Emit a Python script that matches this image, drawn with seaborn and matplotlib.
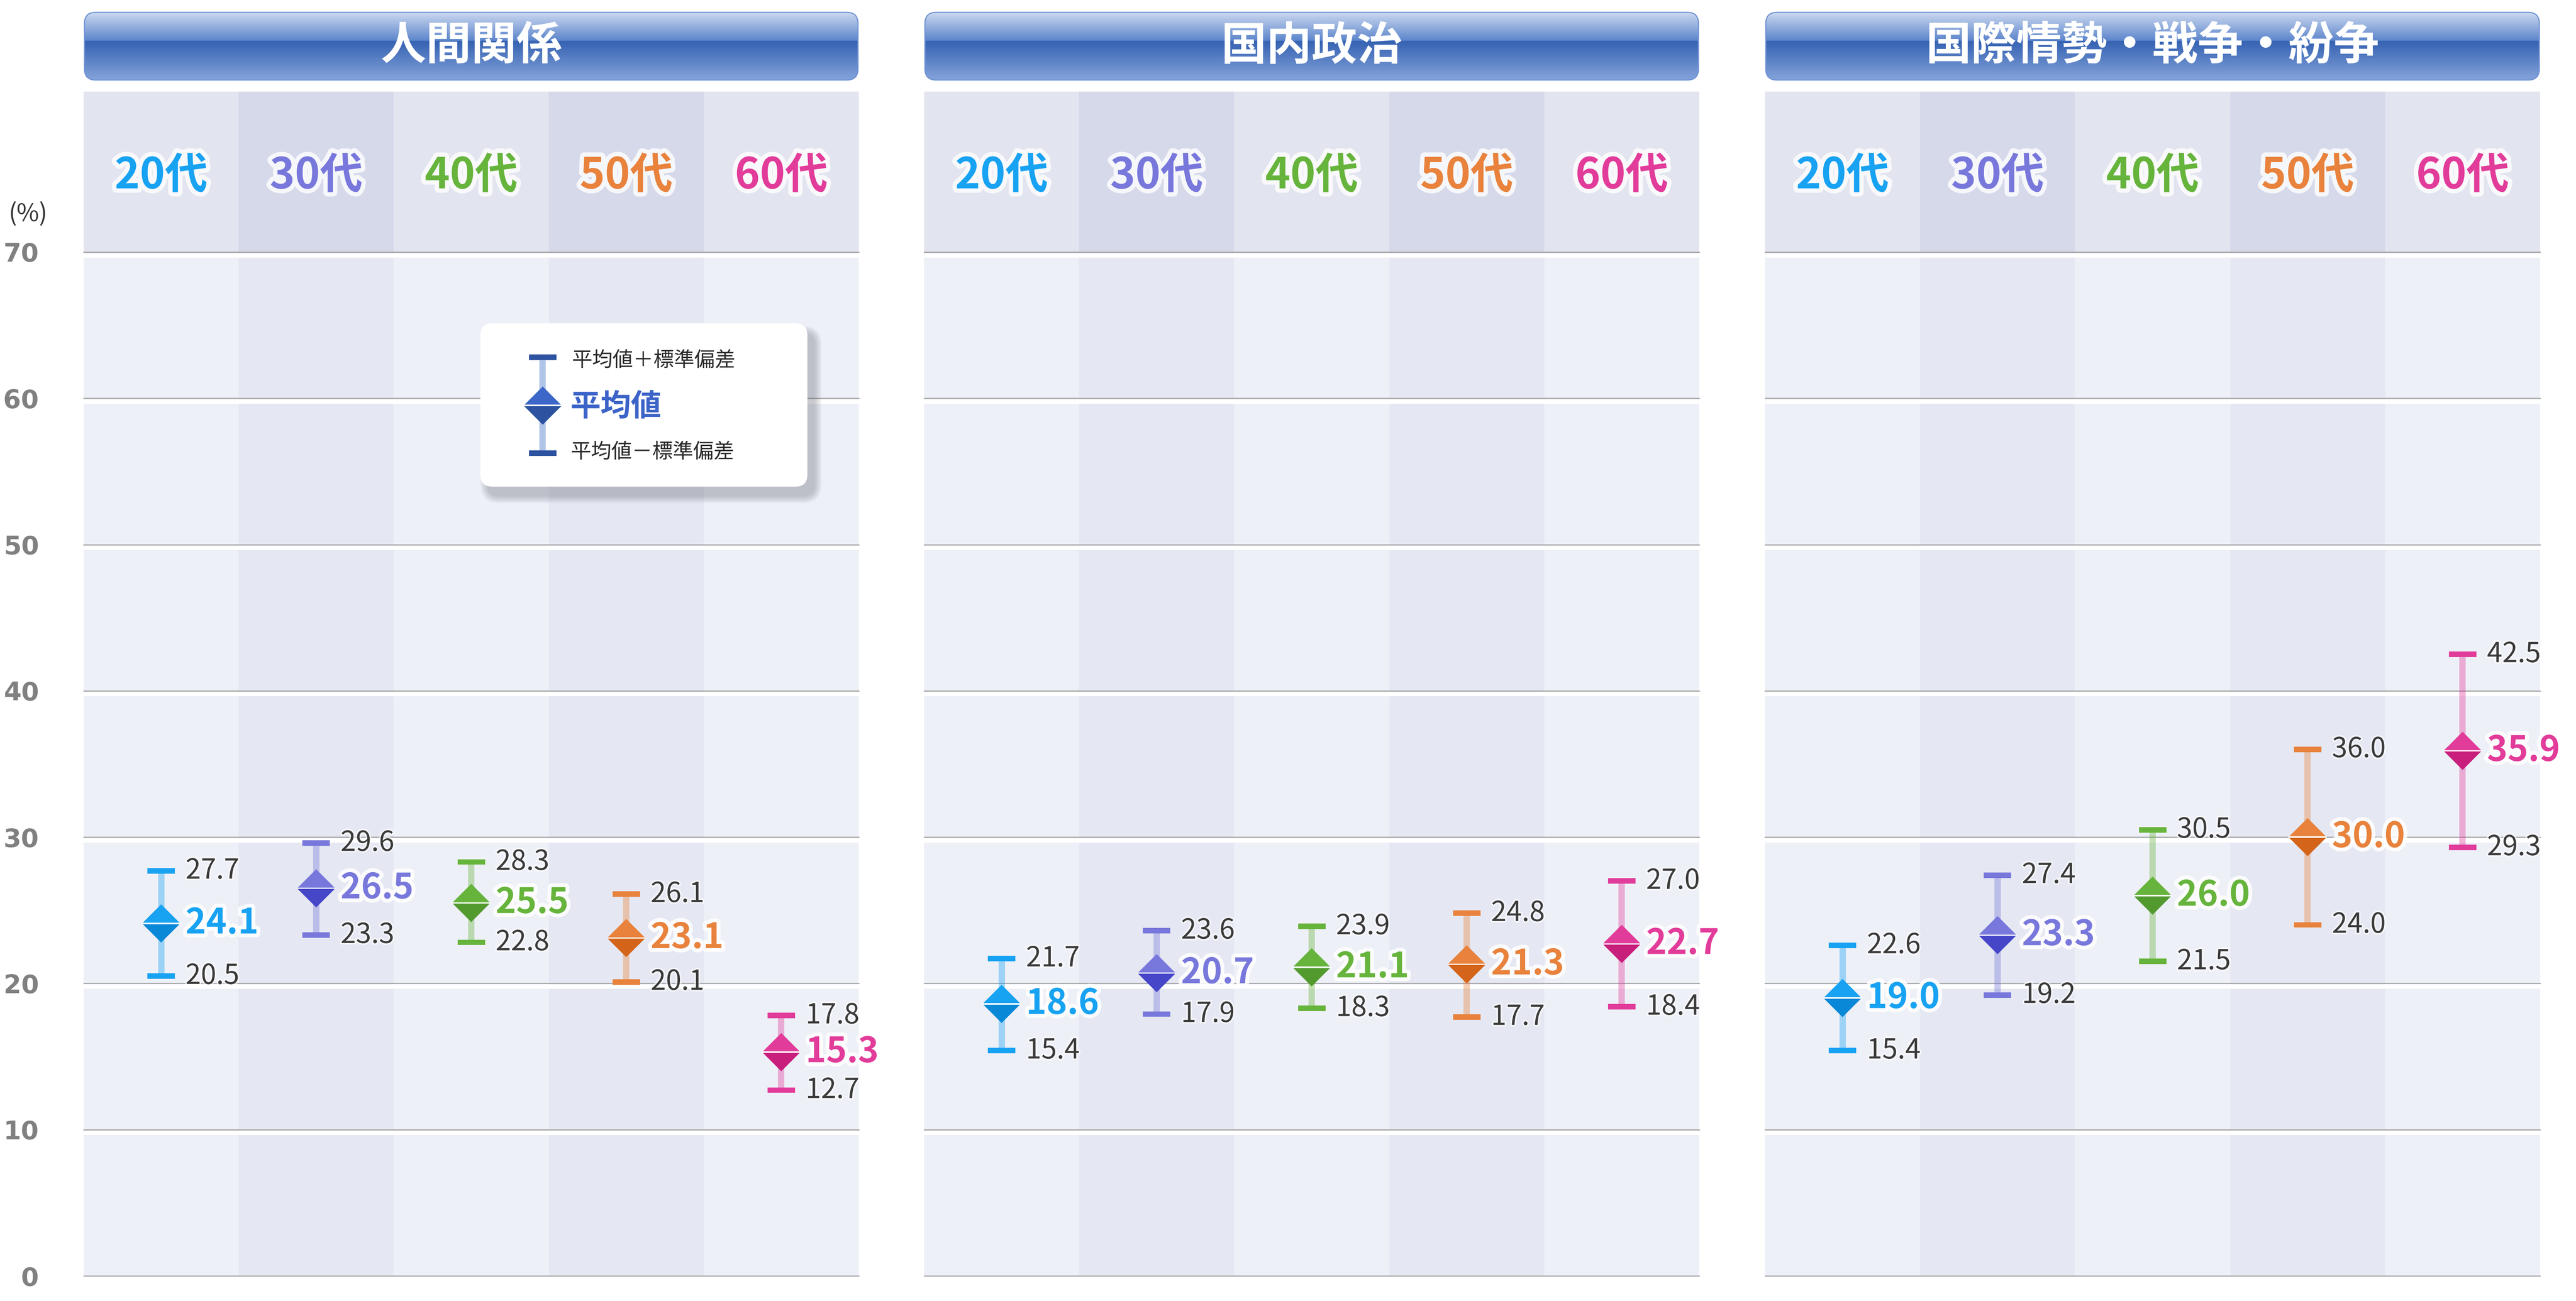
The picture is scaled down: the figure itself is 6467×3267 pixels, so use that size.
import numpy as np
import pandas as pd
import matplotlib
matplotlib.use('Agg')
import matplotlib.pyplot as plt
import matplotlib.patheffects as pe
import matplotlib.transforms as mtransforms
from matplotlib.patches import FancyBboxPatch, Rectangle
from matplotlib.colors import LinearSegmentedColormap
import seaborn as sns

sns.set_theme(style='white')
plt.rcParams['font.family'] = ['Noto Sans CJK JP', 'DejaVu Sans']

# --- data ---
topics = ['人間関係', '国内政治', '国際情勢・戦争・紛争']
ages = ['20代', '30代', '40代', '50代', '60代']

human_mean = [24.1, 26.5, 25.5, 23.1, 15.3]
human_upper = [27.7, 29.6, 28.3, 26.1, 17.8]
human_lower = [20.5, 23.3, 22.8, 20.1, 12.7]

politics_mean = [18.6, 20.7, 21.1, 21.3, 22.7]
politics_upper = [21.7, 23.6, 23.9, 24.8, 27.0]
politics_lower = [15.4, 17.9, 18.3, 17.7, 18.4]

world_mean = [19.0, 23.3, 26.0, 30.0, 35.9]
world_upper = [22.6, 27.4, 30.5, 36.0, 42.5]
world_lower = [15.4, 19.2, 21.5, 24.0, 29.3]

yticks = [0, 10, 20, 30, 40, 50, 60, 70]

age_colors = ['#18a2f2', '#7878dc', '#66b43c', '#e8823c', '#e23c9a']
age_dark = ['#0a88d8', '#4646c8', '#529a2e', '#d4641a', '#c81e7c']

rows = []
for topic, m, u, l in zip(topics,
                          [human_mean, politics_mean, world_mean],
                          [human_upper, politics_upper, world_upper],
                          [human_lower, politics_lower, world_lower]):
    for i, age in enumerate(ages):
        rows.append({'topic': topic, 'age': age, 'pos': i,
                     'mean': m[i], 'upper': u[i], 'lower': l[i]})
df = pd.DataFrame(rows)

# --- style ---
DPI = 100
PX = 72 / DPI  # points per pixel
pal_main = dict(zip(ages, age_colors))
pal_dark = dict(zip(ages, age_dark))

UP_TRI = [(-1, 0), (1, 0), (0, 1), (-1, 0)]
DOWN_TRI = [(-1, 0), (1, 0), (0, -1), (-1, 0)]
CAP = [(-1, -0.2), (1, -0.2), (1, 0.2), (-1, 0.2), (-1, -0.2)]
SEP = [(-1, -0.035), (1, -0.035), (1, 0.035), (-1, 0.035), (-1, -0.035)]
S_DIAMOND = (96 * PX) ** 2
S_CAP = (69 * PX) ** 2

glow_big = [pe.withStroke(linewidth=14, foreground='white', alpha=0.85)]
glow_small = [pe.withStroke(linewidth=6, foreground='white', alpha=0.6)]

fig = plt.figure(figsize=(64.67, 32.67), dpi=DPI)
fig.patch.set_facecolor('white')

W_FIG, H_FIG = 6467, 3267
ax_left = [210, 2320, 4431]
ax_w = 1946
ax_bottom_px, ax_top_px = 3204, 633
hdr_top_px = 230
HDR_H = (ax_top_px - hdr_top_px) / (ax_bottom_px - ax_top_px)

title_cmap = LinearSegmentedColormap.from_list(
    'hdr', [(0, '#d0dcf2'), (0.42, '#5d86cc'), (0.43, '#3562b2'), (1, '#86a5dc')])

axes = []
for k, topic in enumerate(topics):
    ax = fig.add_axes([ax_left[k] / W_FIG, (H_FIG - ax_bottom_px) / H_FIG,
                       ax_w / W_FIG, (ax_bottom_px - ax_top_px) / H_FIG])
    axes.append(ax)
    sub = df[df['topic'] == topic]
    ax.set_facecolor('white')

    # column shading
    for i in range(len(ages)):
        ax.axvspan(i - 0.5, i + 0.5, color='#e5e8f2' if i % 2 else '#eef0f8',
                   lw=0, zorder=0)

    # gridlines with white band beneath
    off = mtransforms.ScaledTranslation(0, -7.5 / DPI, fig.dpi_scale_trans)
    for g in yticks:
        if g > 0:
            ax.plot([0, 1], [g, g], transform=ax.get_yaxis_transform() + off,
                    color='white', lw=11 * PX, solid_capstyle='butt', zorder=1.5)
        ax.axhline(g, color='#a8a8a8', lw=3 * PX, zorder=1.2, clip_on=False)

    # error bars
    ax.vlines(sub['pos'], sub['lower'], sub['upper'], colors=age_colors,
              lw=16 * PX, alpha=0.38, zorder=2)
    for col in ['upper', 'lower']:
        sns.scatterplot(data=sub, x='pos', y=col, hue='age', palette=pal_main,
                        marker=CAP, s=S_CAP, linewidth=0, edgecolor='none',
                        legend=False, ax=ax, zorder=3)
    sns.scatterplot(data=sub, x='pos', y='mean', hue='age', palette=pal_main,
                    marker=UP_TRI, s=S_DIAMOND, linewidth=0, edgecolor='none',
                    legend=False, ax=ax, zorder=4)
    sns.scatterplot(data=sub, x='pos', y='mean', hue='age', palette=pal_dark,
                    marker=DOWN_TRI, s=S_DIAMOND, linewidth=0, edgecolor='none',
                    legend=False, ax=ax, zorder=4)
    sns.scatterplot(data=sub, x='pos', y='mean', color='white',
                    marker=SEP, s=S_DIAMOND, linewidth=0, edgecolor='none',
                    legend=False, ax=ax, zorder=4.5)

    # value labels
    for _, r in sub.iterrows():
        for col in ['upper', 'lower']:
            ax.annotate(f"{r[col]:.1f}", xy=(r['pos'], r[col]), xytext=(44, 0),
                        textcoords='offset points', ha='left', va='center',
                        fontsize=50, color='#3a3a3a', zorder=5,
                        path_effects=glow_small)
        ax.annotate(f"{r['mean']:.1f}", xy=(r['pos'], r['mean']), xytext=(44, 0),
                    textcoords='offset points', ha='left', va='center',
                    fontsize=63, fontweight='bold', color=pal_main[r['age']],
                    zorder=6, path_effects=glow_big)

    # column header row
    hdr = mtransforms.blended_transform_factory(ax.transData, ax.transAxes)
    for i, age in enumerate(ages):
        ax.add_patch(Rectangle((i - 0.5, 1.0), 1, HDR_H, transform=hdr,
                               color='#d6d9ea' if i % 2 else '#e2e5ef',
                               lw=0, clip_on=False, zorder=0))
        ax.text(i, 1 + HDR_H / 2 - 0.004, age, transform=hdr, ha='center',
                va='center', fontsize=77, fontweight='bold', color=age_colors[i],
                path_effects=[pe.withStroke(linewidth=16, foreground='white', alpha=0.8)])

    ax.set_xlim(-0.5, len(ages) - 0.5)
    ax.set_ylim(0, 70)
    ax.set_xticks([])
    ax.set_yticks(yticks)
    if k == 0:
        ax.set_yticklabels([str(t) for t in yticks], fontsize=46,
                           fontweight='bold', color='#808080',
                           family=['Liberation Sans Narrow', 'DejaVu Sans'])
    else:
        ax.set_yticklabels([])
    ax.tick_params(left=False, bottom=False, pad=75)
    ax.set_xlabel('')
    ax.set_ylabel('')
    sns.despine(ax=ax, left=True, bottom=True, top=True, right=True)

    # title box with glossy gradient
    tw, th = ax_w, 174
    tax = fig.add_axes([ax_left[k] / W_FIG, (H_FIG - 203) / H_FIG,
                        tw / W_FIG, th / H_FIG])
    grad = np.linspace(0, 1, 256).reshape(-1, 1)
    im = tax.imshow(grad, extent=(0, tw, 0, th), aspect='auto', cmap=title_cmap,
                    origin='upper')
    box = FancyBboxPatch((2, 2), tw - 4, th - 4,
                         boxstyle='round,pad=0,rounding_size=28',
                         fc='none', ec='#6f93d4', lw=2)
    tax.add_patch(box)
    im.set_clip_path(box)
    tax.text(tw / 2, th / 2, topic, ha='center', va='center', fontsize=82,
             fontweight='bold', color='white')
    tax.set_xlim(0, tw)
    tax.set_ylim(0, th)
    tax.axis('off')

# unit label
fig.text(70 / W_FIG, (H_FIG - 538) / H_FIG, '(%)', ha='center', va='center',
         fontsize=44, color='#333333')

# legend card in first panel
ax1 = axes[0]
LW, LH = 821, 410
lax = ax1.inset_axes([(1206 - 210) / ax_w, (ax_bottom_px - 1222) / (ax_bottom_px - ax_top_px),
                      LW / ax_w, LH / (ax_bottom_px - ax_top_px)])
lax.set_zorder(10)
lax.set_xlim(0, LW)
lax.set_ylim(0, LH)
lax.axis('off')
for s in np.linspace(0, 36, 10):
    lax.add_patch(FancyBboxPatch((18 - s / 2, -24 - s / 2), LW + s, LH + s,
                                 boxstyle=f'round,pad=0,rounding_size={30 + s / 2}',
                                 fc='#5a5c6a', ec='none', alpha=0.035, clip_on=False))
lax.add_patch(FancyBboxPatch((0, 0), LW, LH, boxstyle='round,pad=0,rounding_size=30',
                             fc='white', ec='none', clip_on=False))
lx = 156
lax.plot([lx, lx], [84, 325], color='#b0c4e8', lw=16 * PX, solid_capstyle='butt')
lax.scatter([lx, lx], [325, 84], marker=CAP, s=S_CAP, color='#2c52a0', lw=0, zorder=3)
lax.scatter([lx], [204], marker=UP_TRI, s=S_DIAMOND, color='#3c66c8', lw=0, zorder=4)
lax.scatter([lx], [204], marker=DOWN_TRI, s=S_DIAMOND, color='#2c52a0', lw=0, zorder=4)
lax.scatter([lx], [204], marker=SEP, s=S_DIAMOND, color='white', lw=0, zorder=5)
lax.text(229, 317, '平均値＋標準偏差', ha='left', va='center', fontsize=37, color='#2a2a2a')
lax.text(226, 200, '平均値', ha='left', va='center', fontsize=55, fontweight='bold',
         color='#3c64c8')
lax.text(226, 87, '平均値－標準偏差', ha='left', va='center', fontsize=37, color='#2a2a2a')

fig.savefig('out.png', dpi=DPI, facecolor='white')
